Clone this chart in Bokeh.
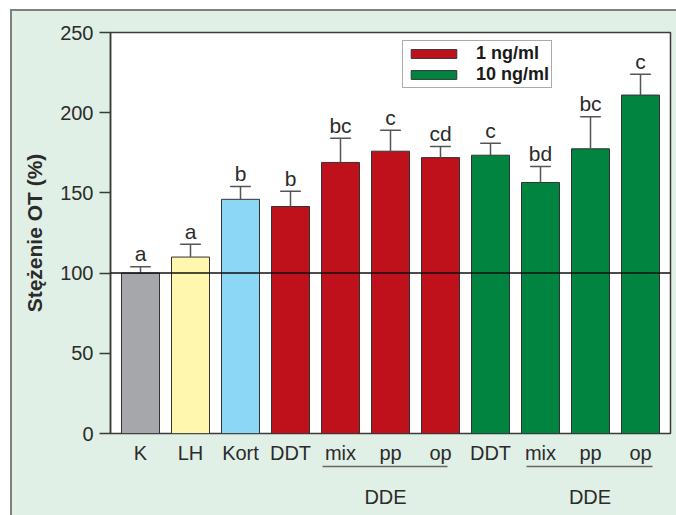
from bokeh.plotting import figure
from bokeh.models import (ColumnDataSource, Range1d, FixedTicker, LinearAxis,
                          Span, Legend, LegendItem)
from bokeh.core.properties import value
from bokeh.embed import file_html
from bokeh.resources import INLINE

# ---- data ----
categories = ["K", "LH", "Kort", "DDT", "mix", "pp", "op", "DDT", "mix", "pp", "op"]
values = [100, 110, 146, 141.5, 169, 176, 172, 173.5, 156.5, 177.5, 211]
err_top = [104, 118, 154, 151, 184, 189, 179, 181, 166.5, 197.5, 224]
letters = ["a", "a", "b", "b", "bc", "c", "cd", "c", "bd", "bc", "c"]
colors = ["#a6a7ab", "#fff7ad", "#8dd7f6", "#be111c", "#be111c", "#be111c", "#be111c",
          "#00843f", "#00843f", "#00843f", "#00843f"]
legend_labels = ["1 ng/ml", "10 ng/ml"]
group_label = "DDE"
group_spans = [(3.64, 6.14), (7.72, 10.24)]
group_centers = [4.9, 8.99]
y_ticks = [0, 50, 100, 150, 200, 250]
reference_level = 100

FONT = "Liberation Sans"
TXT = "#2b2b2b"
PANEL = "#e1f0e6"
EDGE = "#808080"

W, H = 676, 515
X0, X1 = -0.6, 10.6

x = list(range(len(categories)))
src = ColumnDataSource(dict(x=x, top=values, err=err_top, lab=letters, color=colors))

panel_css = (f"linear-gradient({EDGE},{EDGE}) 10px 9px / 100% 2px no-repeat, "
             f"linear-gradient({EDGE},{EDGE}) 10px 9px / 2px 100% no-repeat, "
             f"linear-gradient({PANEL},{PANEL}) 10px 9px / 100% 100% no-repeat, white")

p = figure(width=W, height=H, output_backend="svg", toolbar_location=None,
           x_range=Range1d(X0, X1), y_range=Range1d(0, 250),
           min_border_left=110, min_border_right=6, min_border_top=32, min_border_bottom=82,
           styles={"background": panel_css})
p.background_fill_color = "white"
p.border_fill_alpha = 0
p.outline_line_color = "#3a3a3a"
p.outline_line_width = 1.5
p.xgrid.visible = False
p.ygrid.visible = False

bars = p.vbar(x="x", top="top", bottom=0, width=0.76, source=src, fill_color="color",
              line_color="#333333", line_width=1)

# error bars (upper only)
p.segment(x0="x", y0="top", x1="x", y1="err", source=src, line_color="#555555", line_width=1.5)
p.rect(x="x", y="err", width=0.4, height=0.01, source=src, line_color="#555555",
       line_width=1.5, fill_alpha=0)

# reference line at 100
p.add_layout(Span(location=reference_level, dimension="width", line_color="#111111", line_width=1.5))

# significance letters
p.text(x="x", y="err", text="lab", source=src, text_align="center", text_baseline="alphabetic",
       y_offset=-13, text_font=value(FONT), text_font_size="21px", text_color=TXT)

# axes
p.yaxis.ticker = FixedTicker(ticks=y_ticks)
p.yaxis.minor_tick_line_color = None
p.yaxis.major_tick_out = 11
p.yaxis.major_tick_in = 0
p.yaxis.major_tick_line_color = "#3a3a3a"
p.yaxis.major_tick_line_width = 1.5
p.yaxis.axis_line_color = "#3a3a3a"
p.yaxis.axis_line_width = 1.5
p.yaxis.major_label_text_font = FONT
p.yaxis.major_label_text_font_size = "20px"
p.yaxis.major_label_text_color = TXT
p.yaxis.major_label_standoff = 6
p.yaxis.axis_label = "Stężenie OT (%)"
p.yaxis.axis_label_text_font = FONT
p.yaxis.axis_label_text_font_size = "21px"
p.yaxis.axis_label_text_font_style = "bold"
p.yaxis.axis_label_text_color = TXT
p.yaxis.axis_label_standoff = 11

p.xaxis.ticker = FixedTicker(ticks=x)
p.xaxis.major_label_overrides = {i: c for i, c in zip(x, categories)}
p.xaxis.minor_tick_line_color = None
p.xaxis.major_tick_line_color = None
p.xaxis.axis_line_color = None
p.xaxis.major_label_text_font = FONT
p.xaxis.major_label_text_font_size = "20px"
p.xaxis.major_label_text_color = TXT
p.xaxis.major_label_standoff = 2

def bare_axis(**kw):
    return LinearAxis(ticker=FixedTicker(ticks=[]), minor_tick_line_color=None,
                      major_tick_line_color=None, major_label_standoff=0, **kw)

# spacer, then the two group underlines (axis lines limited by bounds)
p.add_layout(bare_axis(major_tick_out=15, axis_line_color=None), "below")
for xs, xe in group_spans:
    p.add_layout(bare_axis(major_tick_out=0, bounds=(xs, xe), axis_line_color="#666666",
                           axis_line_width=1.5), "below")

# group labels as another bottom axis
grp_axis = LinearAxis(ticker=FixedTicker(ticks=group_centers),
                      major_label_overrides={c: group_label for c in group_centers},
                      axis_line_color=None, major_tick_line_color=None,
                      minor_tick_line_color=None, major_label_standoff=13,
                      major_label_text_font=FONT, major_label_text_font_size="20px",
                      major_label_text_color=TXT)
p.add_layout(grp_axis, "below")

legend = Legend(items=[LegendItem(label=legend_labels[0], renderers=[bars], index=3),
                       LegendItem(label=legend_labels[1], renderers=[bars], index=7)],
                location=(292, 345), glyph_width=57, glyph_height=11, padding=2, spacing=-3,
                margin=0, label_standoff=14, label_text_font=FONT, label_text_font_size="18px",
                label_text_font_style="bold", label_text_color="#1a1a1a",
                border_line_color="#555555", border_line_width=1.5, background_fill_alpha=1)
p.add_layout(legend)

open("out.html", "w").write(file_html(p, INLINE))
